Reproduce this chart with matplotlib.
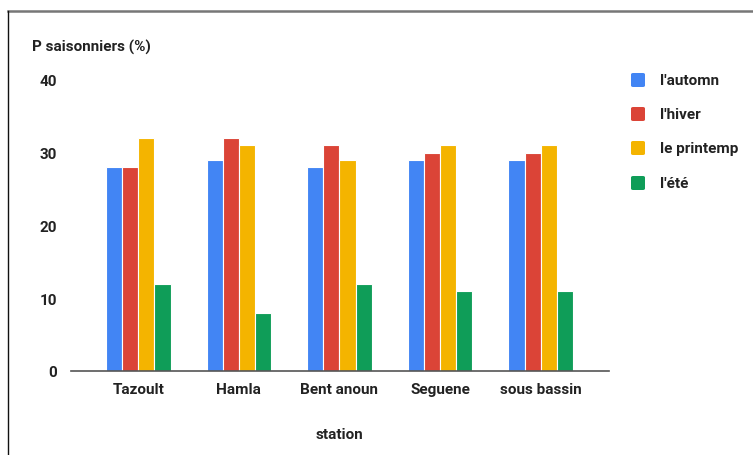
import matplotlib
matplotlib.use("Agg")
import matplotlib.pyplot as plt
from matplotlib.patches import FancyBboxPatch
from matplotlib.lines import Line2D
import numpy as np

plt.rcParams['font.family'] = ['Roboto', 'DejaVu Sans']

stations = ["Tazoult", "Hamla", "Bent anoun", "Seguene", "sous bassin"]
seasons = ["l'automn", "l'hiver", "le printemp", "l'été"]
automn = [28, 29, 28, 29, 29]
hiver = [28, 32, 31, 30, 30]
printemp = [32, 31, 29, 31, 31]
ete = [12, 8, 12, 11, 11]
colors = ["#4285F4", "#DB4437", "#F4B400", "#0F9D58"]
yticks = [0, 10, 20, 30, 40]

W, H = 753, 456
fig = plt.figure(figsize=(W / 100, H / 100), dpi=100)
ax = fig.add_axes([71 / W, 1 - 372 / H, (609 - 71) / W, (372 - 81) / H])

x = np.arange(len(stations))
bw = 0.16
series = [automn, hiver, printemp, ete]
for i, (vals, c) in enumerate(zip(series, colors)):
    ax.bar(x + (i - 1.5) * bw, vals, width=bw, color=c, edgecolor="white",
           linewidth=0.8, zorder=2)

ax.set_xlim(-0.67, 4.68)
ax.set_ylim(0, 40)
ax.set_yticks(yticks)
ax.set_yticklabels([str(v) for v in yticks], fontsize=11, fontweight="bold", color="#222222")
ax.set_xticks(x)
ax.set_xticklabels(stations, fontsize=11, fontweight="bold", color="#222222")
ax.tick_params(axis="both", length=0)
ax.tick_params(axis="x", pad=8)
ax.tick_params(axis="y", pad=10)
for s in ["top", "right", "left"]:
    ax.spines[s].set_visible(False)
ax.spines["bottom"].set_color("#555555")
ax.spines["bottom"].set_linewidth(1.2)
ax.spines["bottom"].set_zorder(3)

fig.text(340 / W, 1 - 435 / H, "station", ha="center", va="center",
         fontsize=11, fontweight="bold", color="#222222")
fig.text(32 / W, 1 - 47 / H, "P saisonniers (%)", ha="left", va="center",
         fontsize=11, fontweight="bold", color="#222222")

# legend
ly = [81, 115, 149, 184]
for lab, c, yy in zip(seasons, colors, ly):
    sq = FancyBboxPatch((631 / W, 1 - (yy + 7) / H), 14 / W, 14 / H,
                        boxstyle="round,pad=0,rounding_size=0.003",
                        transform=fig.transFigure, facecolor=c, edgecolor="none")
    fig.patches.append(sq)
    fig.text(660 / W, 1 - yy / H, lab, ha="left", va="center",
             fontsize=11, fontweight="bold", color="#222222")

# frame lines
fig.add_artist(Line2D([8 / W, 1], [1 - 12 / H, 1 - 12 / H], color="#777777",
                      linewidth=1.8, transform=fig.transFigure))
fig.add_artist(Line2D([8 / W, 8 / W], [0, 1 - 12 / H], color="#111111",
                      linewidth=1.0, transform=fig.transFigure))

fig.savefig("out.png", dpi=100, facecolor="white")
